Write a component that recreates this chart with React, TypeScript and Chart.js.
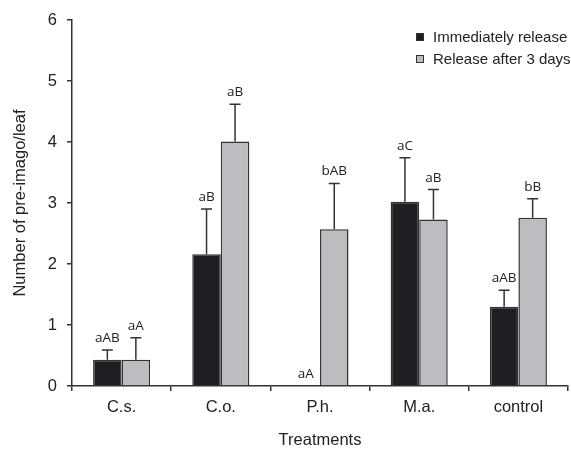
import React, { useEffect, useRef } from "react";
import { Chart, registerables } from "chart.js";

Chart.register(...registerables);

const categories = ["C.s.", "C.o.", "P.h.", "M.a.", "control"];
const immediate = [0.43, 2.16, 0, 3.02, 1.3];
const immediateErr = [0.16, 0.74, 0, 0.72, 0.27];
const immediateLetters = ["aAB", "aB", "aA", "aC", "aAB"];
const after3 = [0.43, 4.01, 2.57, 2.73, 2.76];
const after3Err = [0.36, 0.61, 0.75, 0.49, 0.31];
const after3Letters = ["aA", "aB", "bAB", "aB", "bB"];
const seriesNames = ["Immediately release", "Release after 3 days"];
const yTicks = [0, 1, 2, 3, 4, 5, 6];

const AXIS_FONT = "'Liberation Sans', Arial, sans-serif";
const LETTER_FONT = "'Open Sans', sans-serif";
const BLACK = "#1f1f23";
const GRAY = "#bdbdc0";
const LINE = "#333333";
const TEXT = "#222222";

const errs = [immediateErr, after3Err];
const vals = [immediate, after3];
const letters = [immediateLetters, after3Letters];

const errorPlugin = {
  id: "errorLetters",
  afterDatasetsDraw(chart: any) {
    const ctx = chart.ctx;
    const yScale = chart.scales.y;
    ctx.save();
    for (let d = 0; d < 2; d++) {
      const meta = chart.getDatasetMeta(d);
      meta.data.forEach((el: any, j: number) => {
        const v = vals[d][j];
        const e = errs[d][j];
        const x = el.x;
        const yBar = yScale.getPixelForValue(v);
        const yTop = yScale.getPixelForValue(v + e);
        if (e > 0) {
          ctx.strokeStyle = LINE;
          ctx.lineWidth = 1.5;
          ctx.beginPath();
          ctx.moveTo(x, yBar);
          ctx.lineTo(x, yTop);
          ctx.moveTo(x - 5.5, yTop);
          ctx.lineTo(x + 5.5, yTop);
          ctx.stroke();
        }
        ctx.fillStyle = TEXT;
        ctx.font = `13.5px ${LETTER_FONT}`;
        ctx.textAlign = "center";
        ctx.textBaseline = "alphabetic";
        ctx.fillText(letters[d][j], x, yTop - 8);
      });
    }
    ctx.restore();
  },
};

const legendPlugin = {
  id: "insideLegend",
  afterDraw(chart: any) {
    const ctx = chart.ctx;
    ctx.save();
    const rows = [
      { y: 37, fill: BLACK },
      { y: 59, fill: GRAY },
    ];
    rows.forEach((r, i) => {
      ctx.fillStyle = r.fill;
      ctx.fillRect(416, r.y - 4, 8, 8);
      ctx.strokeStyle = LINE;
      ctx.lineWidth = 1;
      ctx.strokeRect(416.5, r.y - 3.5, 7, 7);
      ctx.fillStyle = TEXT;
      ctx.font = `15px ${AXIS_FONT}`;
      ctx.textAlign = "left";
      ctx.textBaseline = "middle";
      ctx.fillText(seriesNames[i], 433, r.y + 1);
    });
    ctx.restore();
  },
};

export default function App() {
  const ref = useRef<HTMLCanvasElement>(null);
  useEffect(() => {
    if (!ref.current) return;
    const chart = new Chart(ref.current, {
      type: "bar",
      data: {
        labels: categories,
        datasets: [
          {
            label: seriesNames[0],
            data: immediate,
            backgroundColor: BLACK,
            borderColor: LINE,
            borderWidth: 1.5,
            categoryPercentage: 0.575,
            barPercentage: 1,
          },
          {
            label: seriesNames[1],
            data: after3,
            backgroundColor: GRAY,
            borderColor: LINE,
            borderWidth: 1.5,
            categoryPercentage: 0.575,
            barPercentage: 1,
          },
        ],
      },
      options: {
        responsive: false,
        animation: false,
        layout: { padding: { top: 20, right: 3, left: 0, bottom: 0 } },
        plugins: {
          legend: { display: false },
          tooltip: { enabled: false },
        },
        scales: {
          x: {
            offset: true,
            grid: {
              offset: true,
              drawOnChartArea: false,
              drawTicks: true,
              tickLength: 5,
              color: LINE,
              lineWidth: 1.5,
            },
            border: { display: true, color: LINE, width: 1.5 },
            ticks: {
              color: TEXT,
              font: { family: AXIS_FONT, size: 16.5 },
              padding: 7,
            },
            title: {
              display: true,
              text: "Treatments",
              color: TEXT,
              font: { family: AXIS_FONT, size: 16.5 },
              padding: { top: 0, bottom: 0 },
            },
            afterFit: (s: any) => {
              s.height = 64;
            },
          },
          y: {
            min: 0,
            max: 6,
            afterBuildTicks: (s: any) => {
              s.ticks = yTicks.map((v) => ({ value: v }));
            },
            grid: {
              drawOnChartArea: false,
              drawTicks: true,
              tickLength: 5,
              color: LINE,
              lineWidth: 1.5,
            },
            border: { display: true, color: LINE, width: 1.5 },
            ticks: {
              color: TEXT,
              font: { family: AXIS_FONT, size: 16.5 },
              padding: 10,
            },
            title: {
              display: true,
              text: "Number of pre-imago/leaf",
              color: TEXT,
              font: { family: AXIS_FONT, size: 16.5 },
              padding: { top: 10.5, bottom: 0 },
            },
            afterFit: (s: any) => {
              s.width = 72;
            },
          },
        },
      },
      plugins: [errorPlugin, legendPlugin],
    });
    return () => chart.destroy();
  }, []);
  return (
    <div style={{ position: "absolute", left: 0, top: 0, width: 571, height: 450, background: "#fff" }}>
      <canvas ref={ref} width={571} height={450} />
    </div>
  );
}
